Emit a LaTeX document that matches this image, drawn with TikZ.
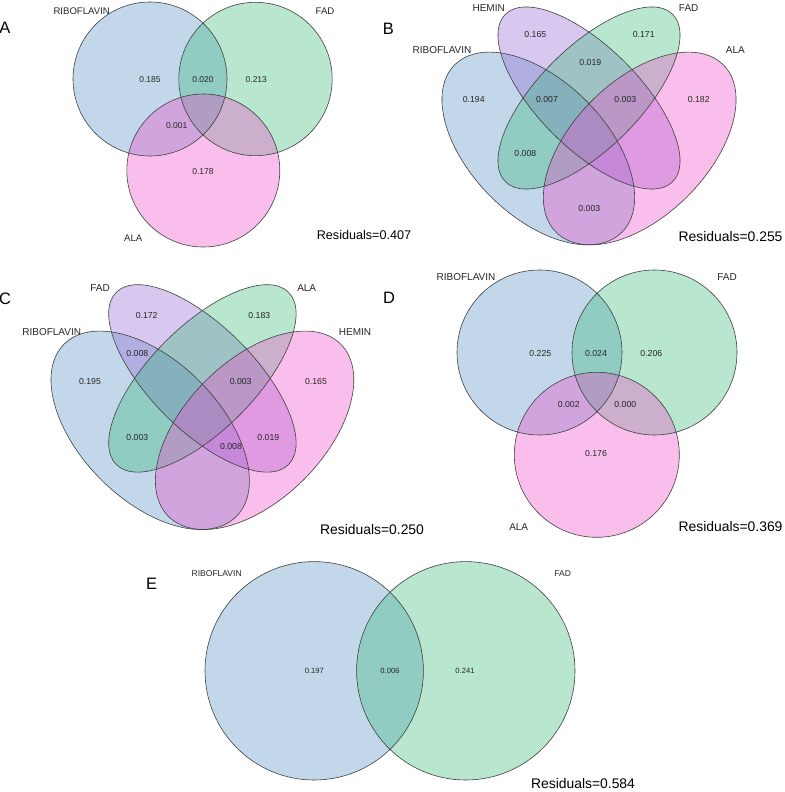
\documentclass[tikz,border=0pt]{standalone}
\usepackage{fontspec}
\setmainfont{Liberation Sans}
\usepackage{tikz}
\definecolor{vblue}{RGB}{81,141,195}
\definecolor{vgreen}{RGB}{52,184,118}
\definecolor{vpink}{RGB}{241,69,201}
\definecolor{vpurple}{RGB}{144,98,212}
\tikzstyle{fblue}=[fill=vblue, fill opacity=0.35]
\tikzstyle{fgreen}=[fill=vgreen, fill opacity=0.35]
\tikzstyle{fpink}=[fill=vpink, fill opacity=0.35]
\tikzstyle{fpurple}=[fill=vpurple, fill opacity=0.35]
\tikzstyle{edge}=[draw=black!75, line width=0.6pt]
\tikzstyle{panel}=[inner sep=0pt, font=\fontsize{16.5}{18}\selectfont]
\tikzstyle{setname}=[inner sep=0pt, text=black!85, font=\fontsize{10}{12}\selectfont]
\tikzstyle{count}=[inner sep=0pt, text=black!85, font=\fontsize{8.7}{10}\selectfont]
\tikzstyle{resid}=[inner sep=0pt, font=\fontsize{13.9}{16}\selectfont]

\begin{document}
\begin{tikzpicture}[x=1pt, y=-1pt]
\useasboundingbox (0,0) rectangle (784,792);

% A: three circles
\fill[fblue] (150,79) circle[radius=77pt];
\fill[fgreen] (255.5,79) circle[radius=76.7pt];
\fill[fpink] (203.3,170.5) circle[radius=76.5pt];
\draw[edge] (150,79) circle[radius=77pt];
\draw[edge] (255.5,79) circle[radius=76.7pt];
\draw[edge] (203.3,170.5) circle[radius=76.5pt];
\node[panel] (tagA) at (5,27.5) {A};
\node[setname, font=\fontsize{9.6}{11}\selectfont] (aRib) at (81.7,10.7) {RIBOFLAVIN};
\node[setname, font=\fontsize{9.6}{11}\selectfont] (aFad) at (325,10.7) {FAD};
\node[setname, font=\fontsize{9.6}{11}\selectfont] (aAla) at (133.3,238.3) {ALA};
\node[count, font=\fontsize{8.5}{10}\selectfont] (aN1) at (150,79.3) {0.185};
\node[count, font=\fontsize{8.5}{10}\selectfont] (aN2) at (203,79.3) {0.020};
\node[count, font=\fontsize{8.5}{10}\selectfont] (aN3) at (256.3,79.3) {0.213};
\node[count, font=\fontsize{8.5}{10}\selectfont] (aN4) at (176.7,126) {0.001};
\node[count, font=\fontsize{8.5}{10}\selectfont] (aN5) at (203,171.7) {0.178};
\node[resid, font=\fontsize{12.6}{15}\selectfont] (aRes) at (364,235) {Residuals=0.407};

% B: four ellipses
\coordinate (bRib) at (538.3,148.5);
\coordinate (bAla) at (639.7,148.5);
\coordinate (bMid) at (589,98);
\fill[fblue, rotate around={135:(bRib)}] (bRib) ellipse[x radius=118.3pt, y radius=67.6pt];
\fill[fpurple, rotate around={135:(bMid)}] (bMid) ellipse[x radius=118.3pt, y radius=50.7pt];
\fill[fgreen, rotate around={45:(bMid)}] (bMid) ellipse[x radius=118.3pt, y radius=50.7pt];
\fill[fpink, rotate around={45:(bAla)}] (bAla) ellipse[x radius=118.3pt, y radius=67.6pt];
\draw[edge, rotate around={135:(bRib)}] (bRib) ellipse[x radius=118.3pt, y radius=67.6pt];
\draw[edge, rotate around={135:(bMid)}] (bMid) ellipse[x radius=118.3pt, y radius=50.7pt];
\draw[edge, rotate around={45:(bMid)}] (bMid) ellipse[x radius=118.3pt, y radius=50.7pt];
\draw[edge, rotate around={45:(bAla)}] (bAla) ellipse[x radius=118.3pt, y radius=67.6pt];
\node[panel] (tagB) at (388.3,29) {B};
\node[setname] (bHem) at (488.7,8.3) {HEMIN};
\node[setname] (bFad) at (688.7,8.3) {FAD};
\node[setname] (bRibName) at (442,50) {RIBOFLAVIN};
\node[setname] (bAlaName) at (735.3,50) {ALA};
\node[count] (bN1) at (535.3,35) {0.165};
\node[count] (bN2) at (643.7,35) {0.171};
\node[count] (bN3) at (590.3,62.7) {0.019};
\node[count] (bN4) at (473.7,99.3) {0.194};
\node[count] (bN5) at (547,99.3) {0.007};
\node[count] (bN6) at (625.3,99.3) {0.003};
\node[count] (bN7) at (698.7,99.3) {0.182};
\node[count] (bN8) at (525.3,154) {0.008};
\node[count] (bN9) at (589.3,208.3) {0.003};
\node[resid] (bRes) at (730.5,236.7) {Residuals=0.255};

% C: four ellipses
\coordinate (cRib) at (150.2,430.3);
\coordinate (cHem) at (254.6,430.3);
\coordinate (cMid) at (202.4,378.4);
\fill[fblue, rotate around={135:(cRib)}] (cRib) ellipse[x radius=121.8pt, y radius=69.6pt];
\fill[fpurple, rotate around={135:(cMid)}] (cMid) ellipse[x radius=121.8pt, y radius=52.2pt];
\fill[fgreen, rotate around={45:(cMid)}] (cMid) ellipse[x radius=121.8pt, y radius=52.2pt];
\fill[fpink, rotate around={45:(cHem)}] (cHem) ellipse[x radius=121.8pt, y radius=69.6pt];
\draw[edge, rotate around={135:(cRib)}] (cRib) ellipse[x radius=121.8pt, y radius=69.6pt];
\draw[edge, rotate around={135:(cMid)}] (cMid) ellipse[x radius=121.8pt, y radius=52.2pt];
\draw[edge, rotate around={45:(cMid)}] (cMid) ellipse[x radius=121.8pt, y radius=52.2pt];
\draw[edge, rotate around={45:(cHem)}] (cHem) ellipse[x radius=121.8pt, y radius=69.6pt];
\node[panel] (tagC) at (5,299) {C};
\node[setname] (cFad) at (100,288.3) {FAD};
\node[setname] (cAla) at (306.7,288.3) {ALA};
\node[setname] (cRibName) at (51.7,331.7) {RIBOFLAVIN};
\node[setname] (cHemName) at (355,331.7) {HEMIN};
\node[count] (cN1) at (146.7,316) {0.172};
\node[count] (cN2) at (259.3,316) {0.183};
\node[count] (cN3) at (137.3,353.3) {0.008};
\node[count] (cN4) at (90,381.7) {0.195};
\node[count] (cN5) at (240.7,381.7) {0.003};
\node[count] (cN6) at (316,381.7) {0.165};
\node[count] (cN7) at (137.3,437.3) {0.003};
\node[count] (cN8) at (268.3,437.3) {0.019};
\node[count] (cN9) at (231,446) {0.008};
\node[resid] (cRes) at (372,529.3) {Residuals=0.250};

% D: three circles
\fill[fblue] (539.5,352.5) circle[radius=82.5pt];
\fill[fgreen] (654.5,352.5) circle[radius=82.5pt];
\fill[fpink] (596.8,454.8) circle[radius=82.5pt];
\draw[edge] (539.5,352.5) circle[radius=82.5pt];
\draw[edge] (654.5,352.5) circle[radius=82.5pt];
\draw[edge] (596.8,454.8) circle[radius=82.5pt];
\node[panel] (tagD) at (389,298.3) {D};
\node[setname] (dRib) at (466,277.3) {RIBOFLAVIN};
\node[setname] (dFad) at (727,277.3) {FAD};
\node[setname] (dAla) at (518.7,526.7) {ALA};
\node[count] (dN1) at (540.3,353.3) {0.225};
\node[count] (dN2) at (596,353.3) {0.024};
\node[count] (dN3) at (651.3,353.3) {0.206};
\node[count] (dN4) at (568.7,404) {0.002};
\node[count] (dN5) at (625.3,404) {0.000};
\node[count] (dN6) at (596,453.3) {0.176};
\node[resid] (dRes) at (730.5,526.7) {Residuals=0.369};

% E: two circles
\fill[fblue] (314.2,670.8) circle[radius=109.2pt];
\fill[fgreen] (465.8,670.8) circle[radius=109.2pt];
\draw[edge] (314.2,670.8) circle[radius=109.2pt];
\draw[edge] (465.8,670.8) circle[radius=109.2pt];
\node[panel] (tagE) at (151.7,583.7) {E};
\node[setname, font=\fontsize{8.5}{10}\selectfont] (eRib) at (216.7,573.3) {RIBOFLAVIN};
\node[setname, font=\fontsize{8.5}{10}\selectfont] (eFad) at (562.7,573.3) {FAD};
\node[count, font=\fontsize{7.6}{9}\selectfont] (eN1) at (314.3,670.7) {0.197};
\node[count, font=\fontsize{7.6}{9}\selectfont] (eN2) at (390,670.7) {0.006};
\node[count, font=\fontsize{7.6}{9}\selectfont] (eN3) at (465,670.7) {0.241};
\node[resid] (eRes) at (583,783.3) {Residuals=0.584};
\end{tikzpicture}
\end{document}
